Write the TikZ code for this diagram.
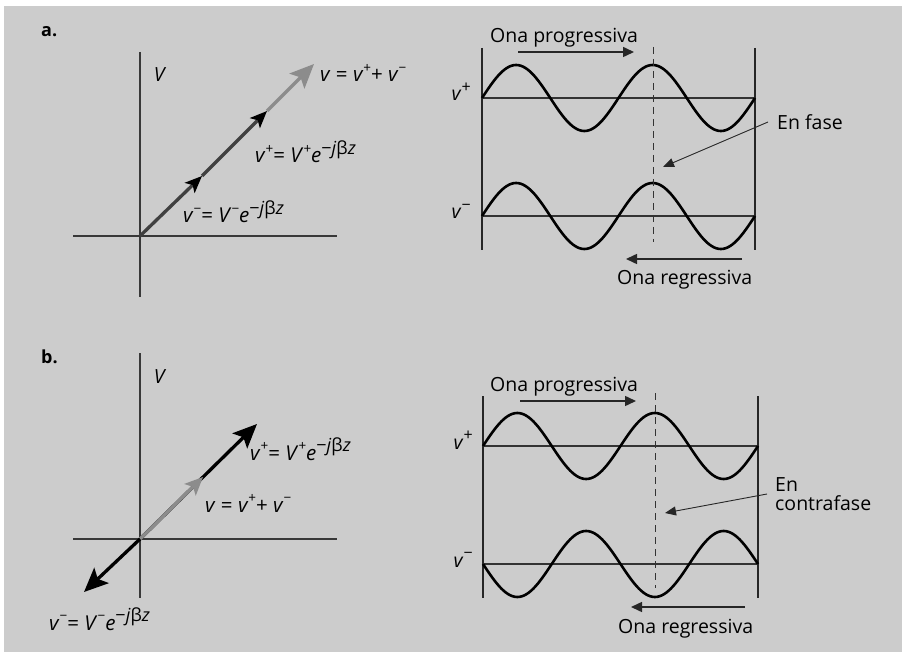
\documentclass[tikz,border=0pt]{standalone}
\usepackage{fontspec}
\setmainfont{Open Sans}
\usetikzlibrary{arrows.meta}

\definecolor{bggray}{gray}{0.80}
\definecolor{inkgray}{gray}{0.55}
\definecolor{axisgray}{gray}{0.22}

% superscripts of the formulas
\newcommand{\supx}[1]{\raisebox{0.45em}{\fontsize{13.5}{13.5}\selectfont #1}}
\newcommand{\supl}[1]{\raisebox{0.42em}{\fontsize{16}{16}\selectfont #1}}
\newcommand{\expo}[1]{\raisebox{0.42em}{\fontsize{18}{18}\selectfont #1}}
\newcommand{\vsum}{\textit{v} = \textit{v}\supx{+}+ \textit{v}\supx{−}}
\newcommand{\vfrm}[1]{\textit{v}\supx{#1}= \textit{V}\supx{#1}\textit{e}\expo{−\textit{j}β\textit{z}}}

\begin{document}
\begin{tikzpicture}[x=1pt, y=-1pt]
    % Styles
    \tikzset{
        txt/.style={font=\fontsize{19.5}{22}\selectfont, inner sep=0pt},
        frm/.style={font=\fontsize{20.5}{22}\selectfont, inner sep=0pt, anchor=base west},
        axis/.style={draw=axisgray, line width=1.3pt},
        frame/.style={draw=black!85, line width=1.5pt},
        baseln/.style={draw=black!80, line width=1.3pt},
        wave/.style={draw=black, line width=2.6pt},
        guide/.style={draw=black!80, line width=1pt, dash pattern=on 7pt off 5pt},
        flow/.style={draw=black!85, line width=1.5pt, -{Triangle[length=11pt,width=10pt]}},
        pointer/.style={draw=black!85, line width=0.9pt, -{Triangle[length=11pt,width=9pt]}},
        vec/.style={line width=3.3pt},
        bigtip/.style={-{Stealth[length=24pt,width=21pt,inset=5pt]}},
        midtip/.style={-{Stealth[length=17pt,width=14pt,inset=4pt,color=black]}}
    }

    % Background
    \fill[white] (0,0) rectangle (902,652);
    \fill[bggray] (4,6) rectangle (902,652);
    \useasboundingbox (0,0) rectangle (902,652);

    % Panel labels
    \node[txt, anchor=base west, font=\fontsize{18}{20}\selectfont\bfseries] (lblA) at (41,37) {a.};
    \node[txt, anchor=base west, font=\fontsize{18}{20}\selectfont\bfseries] (lblB) at (41,363) {b.};

    %%% a. phasors
    \coordinate (oA) at (140,236);
    \coordinate (topA) at (140,52);
    \coordinate (botA) at (140,297);
    \coordinate (lftA) at (73,236);
    \coordinate (rgtA) at (337,236);
    \draw[axis] (topA) -- (botA);
    \draw[axis] (lftA) -- (rgtA);

    \coordinate (m1A) at (202,176);
    \coordinate (m2A) at (267,111);
    \coordinate (tipA) at (314,64);
    \draw[vec, draw=inkgray, bigtip] (m2A) -- (tipA);
    \draw[vec, draw=black!75, midtip] (oA) -- (m1A);
    \draw[vec, draw=black!75, midtip] (m1A) -- (m2A);

    \node[txt] (vA) at (160,75) {\textit{V}};
    \node[frm] (sumA) at (320,82) {\vsum};
    \node[frm] (vpA) at (255,163) {\vfrm{+}};
    \node[frm] (vmA) at (183,223) {\vfrm{−}};

    %%% a. waves
    \coordinate (lA1) at (482,48);
    \coordinate (lA2) at (482,250);
    \coordinate (rA1) at (755,48);
    \coordinate (rA2) at (755,250);
    \draw[frame] (lA1) -- (lA2);
    \draw[frame] (rA1) -- (rA2);
    \draw[baseln] (482,98) -- (755,98);
    \draw[baseln] (482,216) -- (755,216);
    \draw[wave] plot[domain=0:720, samples=121, variable=\t] ({482+\t/720*273}, {98-33*sin(\t)});
    \draw[wave] plot[domain=0:720, samples=121, variable=\t] ({482+\t/720*273}, {216-33*sin(\t)});
    \coordinate (dA1) at (653,47);
    \coordinate (dA2) at (653,242);
    \draw[guide] (dA1) -- (dA2);

    \node[txt, anchor=base east] (vpLA) at (471,101) {\textit{v}\supl{+}};
    \node[txt, anchor=base east] (vmLA) at (471,219) {\textit{v}\supl{−}};

    \node[txt, anchor=base west] (progA) at (490,43) {Ona progressiva};
    \coordinate (pA1) at (518,52);
    \coordinate (pA2) at (634,52);
    \draw[flow] (pA1) -- (pA2);
    \node[txt, anchor=base west] (regA) at (617,285) {Ona regressiva};
    \coordinate (rgA1) at (742,259);
    \coordinate (rgA2) at (626,259);
    \draw[flow] (rgA1) -- (rgA2);

    \node[txt, anchor=west, inner xsep=9pt] (fase) at (768,122) {En fase};
    \coordinate (faseTip) at (663,167);
    \draw[pointer] (fase.west) -- (faseTip);

    %%% b. phasors
    \coordinate (oB) at (140,539);
    \coordinate (topB) at (140,353);
    \coordinate (botB) at (140,598);
    \coordinate (lftB) at (73,539);
    \coordinate (rgtB) at (337,539);
    \draw[axis] (topB) -- (botB);
    \draw[axis] (lftB) -- (rgtB);

    \coordinate (tipB) at (257,424);
    \coordinate (grayB) at (203,477);
    \coordinate (dlB) at (84,592);
    \draw[vec, draw=black, bigtip] (oB) -- (tipB);
    \draw[vec, draw=inkgray, -{Stealth[length=18pt,width=16pt,inset=4pt]}] (oB) -- (grayB);
    \draw[vec, draw=black, bigtip] (oB) -- (dlB);

    \node[txt] (vB) at (160,377) {\textit{V}};
    \node[frm] (vpB) at (250,460) {\vfrm{+}};
    \node[frm] (sumB) at (205,512) {\vsum};
    \node[frm, anchor=base east] (vmB) at (150,630) {\vfrm{−}};

    %%% b. waves
    \coordinate (lB1) at (483,396);
    \coordinate (lB2) at (483,598);
    \coordinate (rB1) at (758,396);
    \coordinate (rB2) at (758,598);
    \draw[frame] (lB1) -- (lB2);
    \draw[frame] (rB1) -- (rB2);
    \draw[baseln] (483,446) -- (758,446);
    \draw[baseln] (483,564) -- (758,564);
    \draw[wave] plot[domain=0:720, samples=121, variable=\t] ({483+\t/720*275}, {446-33*sin(\t)});
    \draw[wave] plot[domain=0:720, samples=121, variable=\t] ({483+\t/720*275}, {564+33*sin(\t)});
    \coordinate (dB1) at (655,393);
    \coordinate (dB2) at (655,588);
    \draw[guide] (dB1) -- (dB2);

    \node[txt, anchor=base east] (vpLB) at (473,449) {\textit{v}\supl{+}};
    \node[txt, anchor=base east] (vmLB) at (473,567) {\textit{v}\supl{−}};

    \node[txt, anchor=base west] (progB) at (490,391) {Ona progressiva};
    \coordinate (pB1) at (520,401);
    \coordinate (pB2) at (636,401);
    \draw[flow] (pB1) -- (pB2);
    \node[txt, anchor=base west] (regB) at (618,633) {Ona regressiva};
    \coordinate (rgB1) at (745,607);
    \coordinate (rgB2) at (631,607);
    \draw[flow] (rgB1) -- (rgB2);

    \node[txt, anchor=west, inner xsep=8pt, align=left] (contra) at (767,494) {En\\[-3pt]contrafase};
    \coordinate (contraTip) at (665,513);
    \draw[pointer] (contra.west) -- (contraTip);

\end{tikzpicture}
\end{document}
